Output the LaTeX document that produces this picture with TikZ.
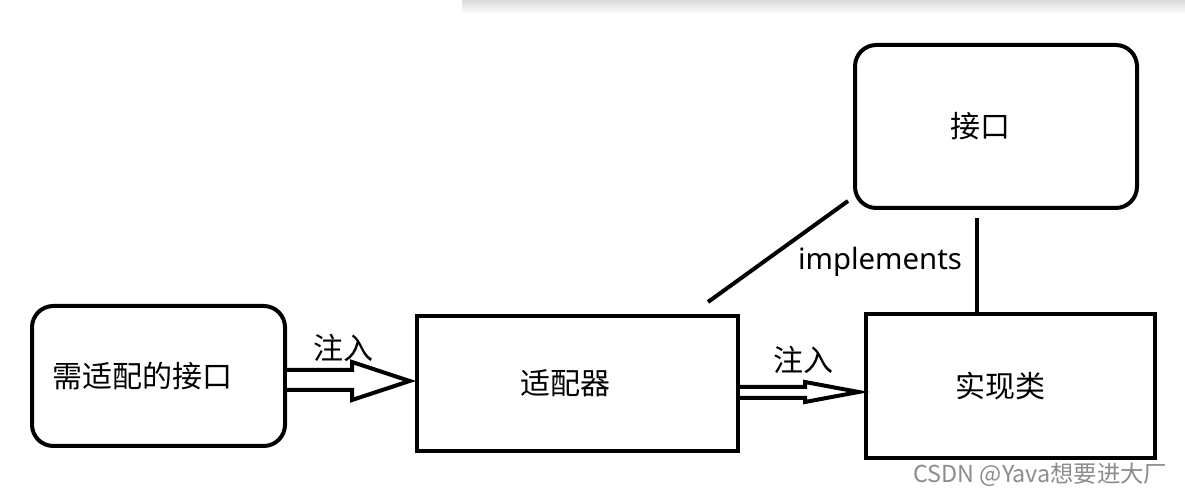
\documentclass[tikz,border=0pt]{standalone}
\usepackage{fontspec}
\setmainfont{Noto Sans}
\newfontfamily\cjk{Noto Sans CJK SC}
\usetikzlibrary{calc}
\tikzset{
  rbox/.style={draw, line width=3pt, rounded corners=16pt, inner sep=0pt},
  sbox/.style={draw, line width=3pt, inner sep=0pt},
  hollow/.style={draw, line width=3pt, line join=miter, fill=white},
  txt/.style={font=\cjk\fontsize{22.5}{26}\selectfont}
}

\begin{document}
\begin{tikzpicture}[x=0.75pt,y=-0.75pt]
    \useasboundingbox (0,0) rectangle (1185,498);
    % screenshot shadow at the top
    \shade[top color=black!14, bottom color=white] (462,0) rectangle (1185,14);

    \node[rbox, minimum width=189.75pt, minimum height=105pt,
          label={[txt, xshift=-12pt]center:需适配的接口}] (need) at (158.5,376) {};
    \node[sbox, txt, minimum width=240.75pt, minimum height=101.25pt] (adapter) at (577.5,383.5) {\hspace{-18pt}适配器};
    \node[sbox, txt, minimum width=216.75pt, minimum height=108pt] (impl) at (1010.5,386) {\hspace{-15pt}实现类};
    \node[rbox, txt, minimum width=211.5pt, minimum height=122.25pt] (iface) at (996,126.5) {\hspace{-24pt}接口};

    % hollow arrows
    \draw[hollow] (need.east |- 0,370) -- (352,370) -- (352,362) -- ([xshift=-4pt]adapter.west |- 0,381)
      -- (352,400) -- (352,390) -- (need.east |- 0,390);
    \draw[hollow] (adapter.east |- 0,387) -- (805,387) -- (805,382) -- ([xshift=-4pt]impl.west |- 0,392)
      -- (805,402) -- (805,398) -- (adapter.east |- 0,398);
    \node[txt] (inj1) at (343,348) {注入};
    \node[txt] (inj2) at (803,360) {注入};

    % implements
    \coordinate (lowend) at (708,302);
    \coordinate (topend) at (848,201);
    \draw[line width=3pt] (lowend) -- (topend);
    \draw[line width=3pt] (iface.south -| 977,0) ++(0,8) -- (impl.north -| 977,0);
    \node[font=\fontsize{22}{26}\selectfont] (implabel) at (880,262) {implements};

    % watermark
    \node[text=black!45, font=\cjk\fontsize{17.5}{20}\selectfont, anchor=east] (mark) at (1172,475) {CSDN @Yava想要进大厂};
  \end{tikzpicture}
\end{document}
